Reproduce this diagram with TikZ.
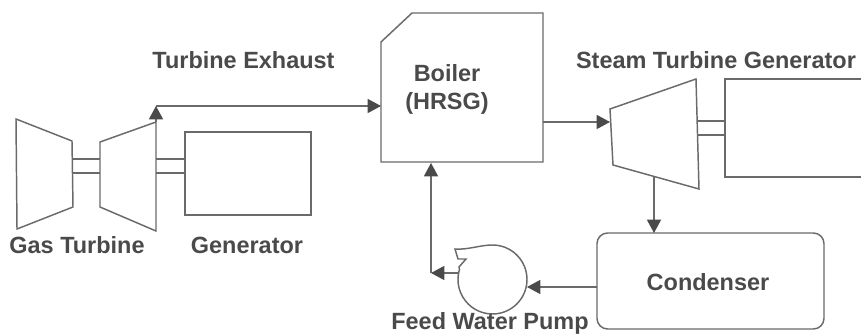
\documentclass[tikz,border=0pt]{standalone}
\usepackage{fontspec}
\setmainfont{Liberation Sans}
\usetikzlibrary{arrows.meta}
\definecolor{ln}{HTML}{6A6A6A}
\definecolor{tx}{HTML}{4A4A4A}
\tikzset{
  part/.style={draw=ln,line width=1.1pt,line join=miter,fill=white},
  shaft/.style={draw=ln,line width=1pt},
  flow/.style={draw=ln,line width=1.1pt,-{Triangle[length=10pt,width=10.5pt,color=tx]}},
  lbl/.style={text=tx,font=\bfseries\fontsize{17.6pt}{21pt}\selectfont,inner sep=0pt,align=center},
}
\begin{document}
\begin{tikzpicture}[x=0.75pt,y=-0.75pt]
\useasboundingbox (0,0) rectangle (861,334);
% named anchor points
\coordinate (gtR) at (156,122);
\coordinate (exC) at (156,106);
\coordinate (boilW) at (381,106);
\coordinate (boilE) at (543,122);
\coordinate (stW) at (610,122);
\coordinate (stS) at (654,177);
\coordinate (condN) at (654,233);
\coordinate (condW) at (597,287);
\coordinate (pumpE) at (527,287);
\coordinate (pumpW) at (458,273);
\coordinate (retC) at (431,273);
\coordinate (boilS) at (431,163);
% gas turbine
\draw[part] (16,119) -- (72,141) -- (73,207) -- (17,229) -- cycle;
\draw[shaft] (73,159) -- (100,159) (73,173) -- (100,173);
\draw[part] (100,142) -- (156,122) -- (156,231) -- (100,207) -- cycle;
\draw[shaft] (156,159) -- (185,159) (156,173) -- (185,173);
\draw[part] (185,132) rectangle (311,215);
% boiler
\draw[part] (381,42) -- (412,13) -- (543,13) -- (543,162) -- (381,162) -- cycle;
% steam turbine
\draw[shaft] (697,121) -- (725,121) (697,135) -- (725,135);
\draw[part] (610,109) -- (696,79) -- (699,189) -- (613,165) -- cycle;
\draw[part] (865,79) -- (725,79) -- (725,177) -- (865,177);
% condenser
\draw[part,rounded corners=8pt] (597,233) rectangle (824,329);
% pump
\draw[part] (492.5,245) arc[start angle=-90,end angle=197,radius=34.5]
  -- (459,267) -- (466,259) -- (458,259) -- (455,249)
  .. controls (468,250) and (480,245) .. (492.5,245);
% connectors
\draw[flow] (gtR) -- (exC);
\draw[flow] (exC) -- (boilW);
\draw[flow] (boilE) -- (stW);
\draw[flow] (stS) -- (condN);
\draw[flow] (condW) -- (pumpE);
\draw[flow] (pumpW) -- (retC);
\draw[flow] (retC) -- (boilS);
% labels
\node[lbl] (l1) at (243.5,60) {Turbine Exhaust};
\node[lbl] (l2) at (447,89) {Boiler\\(HRSG)};
\node[lbl] (l3) at (716,60) {Steam Turbine Generator};
\node[lbl] (l4) at (77,245) {Gas Turbine};
\node[lbl] (l5) at (247,245) {Generator};
\node[lbl] (l6) at (708,282) {Condenser};
\node[lbl] (l7) at (490,323) {Feed Water Pump};
\end{tikzpicture}
\end{document}
